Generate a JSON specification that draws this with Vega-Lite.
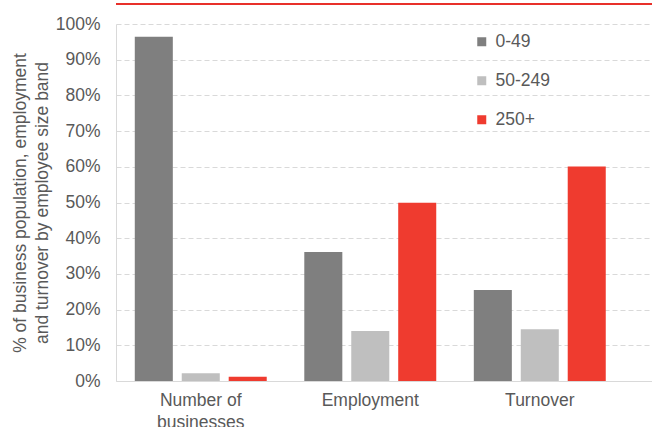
{
  "$schema": "https://vega.github.io/schema/vega-lite/v6.json",
  "width": 536,
  "height": 357,
  "autosize": {"type": "none"},
  "padding": {"left": 116, "top": 24, "right": 0, "bottom": 46},
  "background": "white",
  "config": {
    "font": "Liberation Sans",
    "view": {"stroke": null},
    "axis": {"labelColor": "#595959", "titleColor": "#595959", "labelFontSize": 17.5, "titleFontSize": 17.5, "titleFontWeight": "normal", "ticks": false, "tickSize": 0, "domainColor": "#d9d9d9", "gridColor": "#d9d9d9", "labelOverlap": false}
  },
  "layer": [
    {
      "data": {"values": [
        {"measure": "Number of businesses", "band": "0-49", "share": 0.964},
        {"measure": "Number of businesses", "band": "50-249", "share": 0.022},
        {"measure": "Number of businesses", "band": "250+", "share": 0.012},
        {"measure": "Employment", "band": "0-49", "share": 0.361},
        {"measure": "Employment", "band": "50-249", "share": 0.140},
        {"measure": "Employment", "band": "250+", "share": 0.499},
        {"measure": "Turnover", "band": "0-49", "share": 0.255},
        {"measure": "Turnover", "band": "50-249", "share": 0.145},
        {"measure": "Turnover", "band": "250+", "share": 0.601}
      ]},
      "mark": {"type": "bar"},
      "encoding": {
        "x": {
          "field": "measure", "type": "nominal",
          "sort": ["Number of businesses", "Employment", "Turnover"],
          "scale": {"paddingInner": 0, "paddingOuter": 0.081, "align": 0},
          "axis": {"title": null, "labelAngle": 0, "labelPadding": 10, "labelBaseline": "top", "labelLineHeight": 22,
            "labelExpr": "datum.value == 'Number of businesses' ? ['Number of', 'businesses'] : datum.value", "grid": false, "domain": true}
        },
        "xOffset": {
          "field": "band", "type": "nominal",
          "sort": ["0-49", "50-249", "250+"],
          "scale": {"paddingInner": 0.19, "paddingOuter": 0.4}
        },
        "y": {
          "field": "share", "type": "quantitative",
          "scale": {"domain": [0, 1]},
          "axis": {
            "title": ["% of business population, employment", "and turnover by employee size band"],
            "titleLineHeight": 22, "titlePadding": 4,
            "format": ".0%", "values": [0, 0.1, 0.2, 0.3, 0.4, 0.5, 0.6, 0.7, 0.8, 0.9, 1.0], "tickCount": 11,
            "labelPadding": 16, "labelOverlap": false, "grid": true, "gridDash": [5, 3], "domain": true
          }
        },
        "color": {
          "field": "band", "type": "nominal",
          "scale": {"domain": ["0-49", "50-249", "250+"], "range": ["#7f7f7f", "#bfbfbf", "#ef3b2f"]},
          "legend": {
            "title": null, "orient": "none", "legendX": 357, "legendY": 9,
            "symbolType": "square", "symbolSize": 81, "symbolStrokeWidth": 0,
            "labelFontSize": 17.5, "labelColor": "#595959", "labelOffset": 5, "rowPadding": 20, "padding": 0
          }
        }
      }
    },
    {
      "data": {"values": [{"line": "top"}]},
      "mark": {"type": "rule", "color": "#e8302a", "strokeWidth": 2, "clip": false},
      "encoding": {
        "y": {"datum": 1.056, "type": "quantitative", "scale": {"domain": [0, 1]},
          "axis": {
            "title": ["% of business population, employment", "and turnover by employee size band"],
            "titleLineHeight": 22, "titlePadding": 4,
            "format": ".0%", "values": [0, 0.1, 0.2, 0.3, 0.4, 0.5, 0.6, 0.7, 0.8, 0.9, 1.0], "tickCount": 11,
            "labelPadding": 16, "labelOverlap": false, "grid": true, "gridDash": [5, 3], "domain": true
          }
        }
      }
    }
  ]
}
